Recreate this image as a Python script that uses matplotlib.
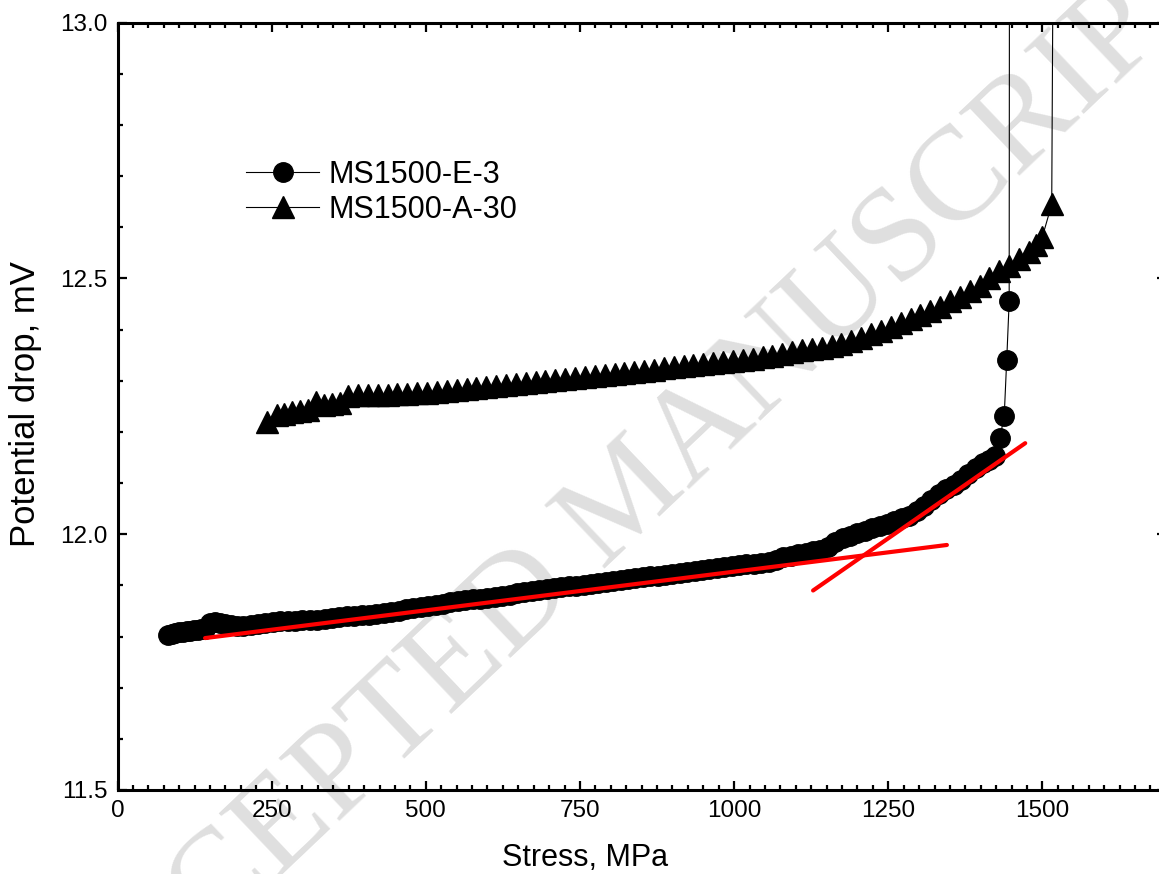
import matplotlib
matplotlib.use("Agg")
import matplotlib.pyplot as plt
from matplotlib.ticker import MultipleLocator, FormatStrFormatter

plt.rcParams['font.family'] = ['Liberation Sans', 'DejaVu Sans']

# ---- data ----
e3_stress = [82, 88, 94, 100, 106, 112, 118, 124, 130, 136, 142, 150, 158, 166, 174, 184, 194, 204,
             216, 228, 240, 252, 264, 276, 288, 300, 312, 324, 336, 348, 360, 372, 384, 396, 408,
             420, 432, 444, 456, 468, 480, 492, 504, 516, 528, 540, 552, 564, 576, 588, 600, 612,
             624, 636, 648, 660, 672, 684, 696, 708, 720, 732, 744, 756, 768, 780, 792, 804, 816,
             828, 840, 852, 864, 876, 888, 900, 912, 924, 936, 948, 960, 972, 984, 996, 1008, 1020,
             1032, 1044, 1056, 1068, 1080, 1092, 1104, 1116, 1128, 1140, 1152, 1164, 1176, 1188,
             1200, 1212, 1224, 1236, 1248, 1260, 1272, 1284, 1296, 1308, 1320, 1332, 1344, 1356,
             1368, 1380, 1392, 1404, 1414, 1423, 1431, 1438, 1442, 1446, 1447]
e3_pd = [11.803, 11.805, 11.806, 11.808, 11.809, 11.810, 11.811, 11.812, 11.813, 11.814, 11.815,
         11.826, 11.829, 11.826, 11.824, 11.822, 11.821, 11.820, 11.822, 11.824, 11.826, 11.828,
         11.830, 11.831, 11.831, 11.832, 11.833, 11.833, 11.835, 11.836, 11.838, 11.840, 11.841,
         11.842, 11.843, 11.844, 11.846, 11.848, 11.850, 11.853, 11.855, 11.857, 11.859, 11.861,
         11.864, 11.867, 11.870, 11.872, 11.873, 11.874, 11.876, 11.878, 11.880, 11.882, 11.885,
         11.887, 11.889, 11.891, 11.893, 11.894, 11.896, 11.898, 11.899, 11.901, 11.903, 11.905,
         11.907, 11.909, 11.911, 11.913, 11.914, 11.916, 11.918, 11.919, 11.921, 11.922, 11.924,
         11.926, 11.928, 11.930, 11.932, 11.934, 11.936, 11.937, 11.939, 11.941, 11.942, 11.944,
         11.945, 11.950, 11.955, 11.958, 11.961, 11.964, 11.967, 11.970, 11.976, 11.984, 11.992,
         11.997, 12.002, 12.007, 12.012, 12.016, 12.020, 12.026, 12.031, 12.036, 12.045, 12.056,
         12.066, 12.078, 12.089, 12.097, 12.106, 12.117, 12.130, 12.140, 12.146, 12.152, 12.188,
         12.232, 12.340, 12.455, 14.0]

a30_stress = [242, 258, 270, 283, 296, 309, 322, 335, 348, 361, 374, 390, 406, 422, 438, 454, 470,
              486, 502, 518, 534, 550, 566, 582, 598, 614, 630, 646, 662, 678, 694, 710, 726, 742,
              758, 774, 790, 806, 822, 838, 854, 870, 886, 902, 918, 934, 950, 966, 982, 998, 1014,
              1030, 1046, 1062, 1078, 1094, 1110, 1126, 1142, 1158, 1174, 1190, 1206, 1222, 1238,
              1254, 1270, 1286, 1302, 1318, 1334, 1350, 1366, 1382, 1398, 1414, 1430, 1446, 1462,
              1478, 1490, 1500, 1515, 1521]
a30_pd = [12.219, 12.233, 12.236, 12.238, 12.240, 12.243, 12.258, 12.252, 12.254, 12.256, 12.270,
          12.272, 12.272, 12.273, 12.273, 12.274, 12.275, 12.276, 12.277, 12.279, 12.280, 12.282,
          12.283, 12.285, 12.287, 12.289, 12.291, 12.293, 12.295, 12.297, 12.300, 12.302, 12.304,
          12.306, 12.308, 12.310, 12.312, 12.314, 12.316, 12.318, 12.320, 12.322, 12.324, 12.326,
          12.328, 12.330, 12.332, 12.334, 12.336, 12.338, 12.340, 12.343, 12.346, 12.349, 12.352,
          12.356, 12.360, 12.362, 12.364, 12.368, 12.372, 12.378, 12.384, 12.391, 12.398, 12.405,
          12.412, 12.420, 12.428, 12.436, 12.445, 12.455, 12.464, 12.475, 12.486, 12.500, 12.515,
          12.525, 12.538, 12.552, 12.566, 12.582, 12.645, 14.0]

fit1_stress = [142, 1345]
fit1_pd = [11.797, 11.979]
fit2_stress = [1128, 1472]
fit2_pd = [11.890, 12.178]

x_ticks = [0, 250, 500, 750, 1000, 1250, 1500]
y_ticks = [11.5, 12.0, 12.5, 13.0]

# ---- figure ----
W, H = 1159, 874
fig = plt.figure(figsize=(W / 100, H / 100), dpi=100)
fig.patch.set_facecolor('white')

# watermark
fig.text(630 / W, 1 - 500 / H, 'ACCEPTED MANUSCRIPT', family='Liberation Serif',
         fontsize=96, color='#dfdfdf', rotation=43.5, ha='center', va='center',
         rotation_mode='anchor', zorder=-5)

ax = fig.add_axes([117.5 / W, 84 / H, 1048.3 / W, 767.3 / H])
ax.patch.set_visible(False)

ax.plot(e3_stress, e3_pd, color='black', lw=0.8, marker='o', ms=14,
        mfc='black', mec='black', label='MS1500-E-3', zorder=3)
ax.plot(a30_stress, a30_pd, color='black', lw=0.8, marker='^', ms=16,
        mfc='black', mec='black', label='MS1500-A-30', zorder=3)
ax.plot(fit1_stress, fit1_pd, color='#ff0000', lw=3, zorder=4, solid_capstyle='round')
ax.plot(fit2_stress, fit2_pd, color='#ff0000', lw=3, zorder=4, solid_capstyle='round')

ax.set_xlim(0, 1700)
ax.set_ylim(11.5, 13.0)
ax.set_xticks(x_ticks)
ax.set_yticks(y_ticks)
ax.xaxis.set_minor_locator(MultipleLocator(25))
ax.yaxis.set_minor_locator(MultipleLocator(0.1))
ax.yaxis.set_major_formatter(FormatStrFormatter('%.1f'))

for sp in ax.spines.values():
    sp.set_linewidth(2.2)
ax.tick_params(which='both', direction='in', top=True, right=True, width=1.6)
ax.tick_params(which='major', length=6.5, labelsize=17.5, pad=7)
ax.tick_params(which='minor', length=3.6)

ax.set_xlabel('Stress, MPa', fontsize=22, va='center')
ax.xaxis.set_label_coords((585 - 117.5) / 1048.3, -(858 - 790) / 767.3)
ax.set_ylabel('Potential drop, mV', fontsize=25, va='center')
ax.yaxis.set_label_coords(-(117.5 - 26) / 1048.3, (790 - 404) / 767.3)

ax.legend(loc='upper left', bbox_to_anchor=(246 / W, 1 - 160 / H),
          bbox_transform=fig.transFigure, frameon=False, fontsize=22,
          handlelength=2.4, handletextpad=0.3, labelspacing=0.15,
          borderpad=0, borderaxespad=0)

fig.savefig('out.png', dpi=100)
